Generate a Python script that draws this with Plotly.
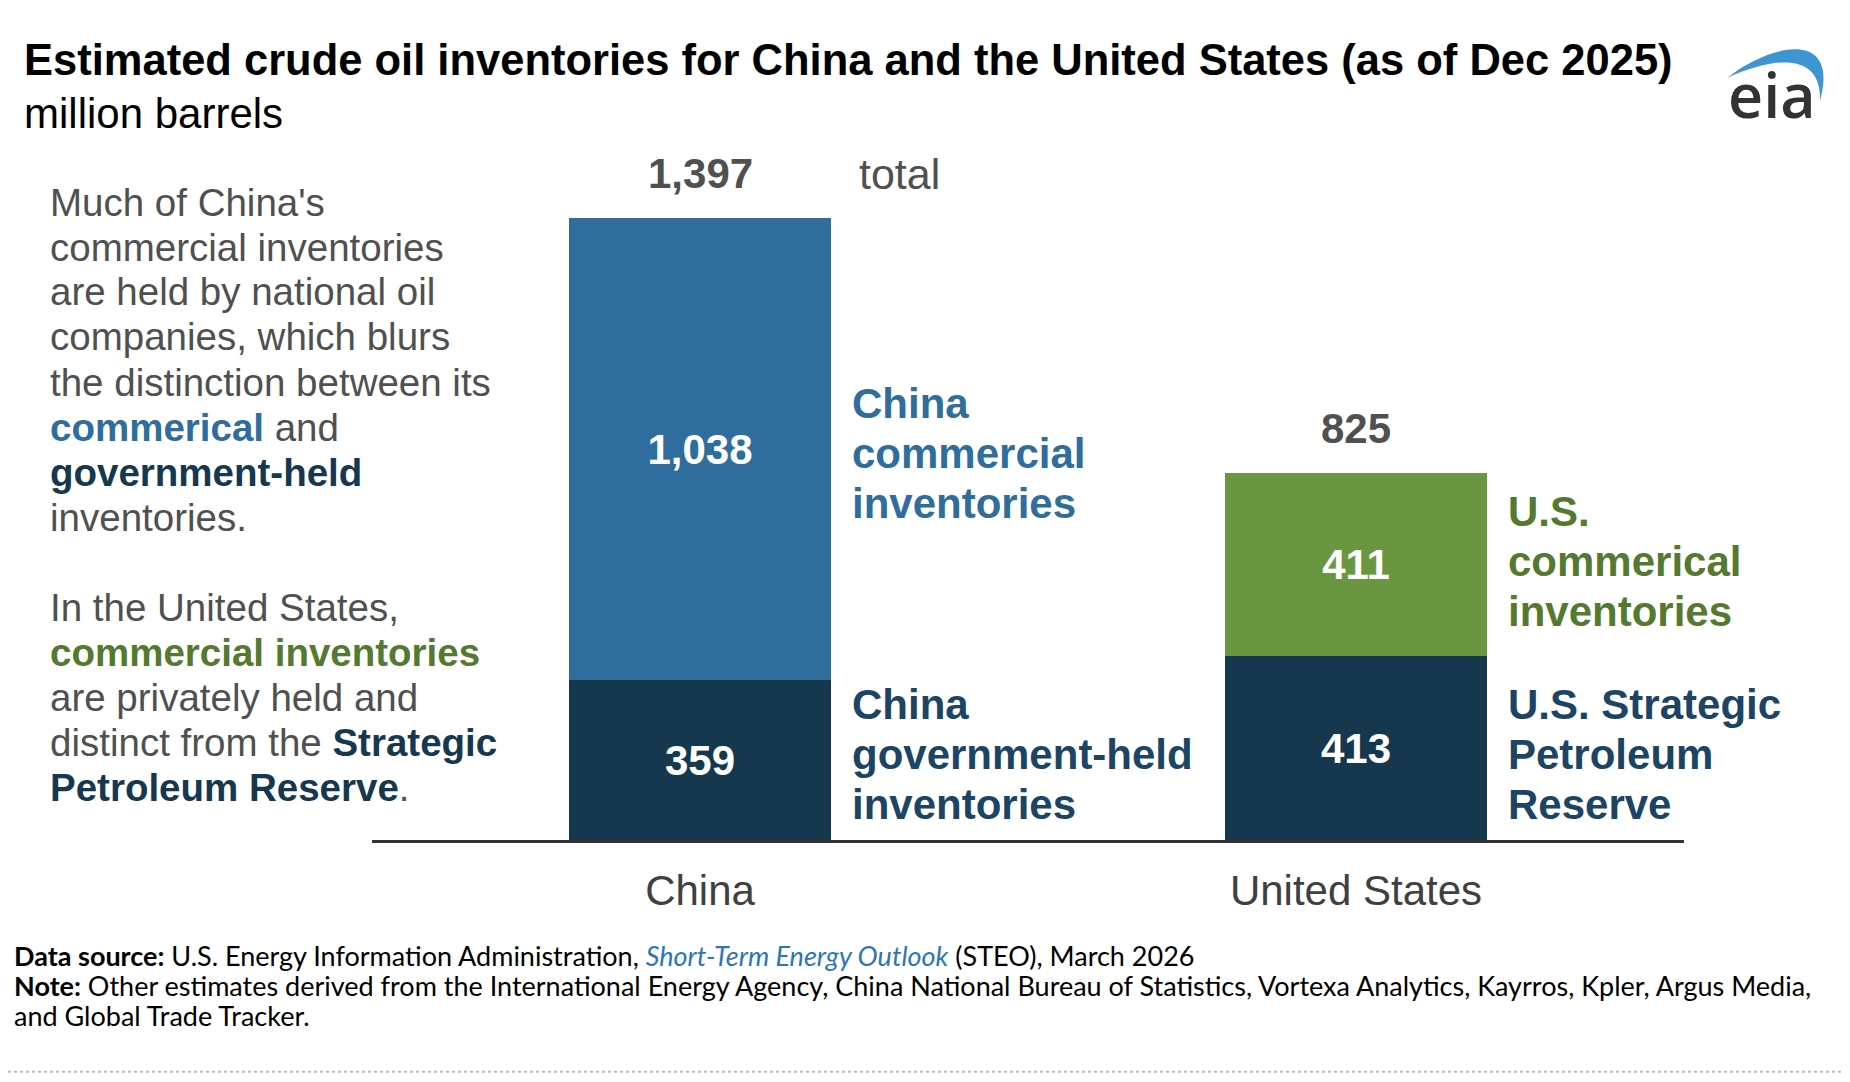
import plotly.graph_objects as go

# data (million barrels, as of Dec 2025)
countries = ["China", "United States"]
govt_held = [359, 413]        # China government-held / U.S. SPR
commercial = [1038, 411]      # commercial inventories
totals = [1397, 825]

# page body has an 8px margin, so the figure is a bit smaller than the window
OFF = 8
W, H = 1850 - 2 * OFF, 1082 - 2 * OFF

NAVY = "#16384F"
BLUE = "#2F6D9C"
GREEN = "#6A9641"
NAVY_TXT = "#1C4464"
GREEN_TXT = "#54792F"
GREY = "#505050"
FONT = "Liberation Sans"


def px_x(x):
    # screen px -> paper
    return (x - OFF) / W


def px_y(y):
    return 1 - (y - OFF) / H


fig = go.Figure()
fig.add_trace(go.Bar(
    x=countries, y=govt_held,
    marker=dict(color=NAVY, line=dict(width=0)),
    texttemplate="%{y:,}", textposition="inside", insidetextanchor="middle",
    textfont=dict(family=FONT, size=42, color="white", weight="bold"),
))
fig.add_trace(go.Bar(
    x=countries, y=commercial,
    marker=dict(color=[BLUE, GREEN], line=dict(width=0)),
    texttemplate="%{y:,}", textposition="inside", insidetextanchor="middle",
    textfont=dict(family=FONT, size=42, color="white", weight="bold"),
))

ann = []

# totals above bars
for c, t in zip(countries, totals):
    ann.append(dict(x=c, y=t, xref="x", yref="y", text=f"<b>{t:,}</b>",
                    showarrow=False, yanchor="middle", yshift=44,
                    font=dict(family=FONT, size=42, color=GREY)))
ann.append(dict(x=countries[0], y=totals[0], xref="x", yref="y", text="total",
                showarrow=False, xanchor="left", yanchor="middle",
                xshift=157, yshift=44,
                font=dict(family=FONT, size=43, color=GREY)))

# series labels to the right of the bars (one annotation per line)
seg_labels = [
    (countries[0], govt_held[0] + commercial[0] / 2, -5,
     ["China", "commercial", "inventories"], BLUE),
    (countries[0], govt_held[0] / 2, 5,
     ["China", "government-held", "inventories"], NAVY_TXT),
    (countries[1], govt_held[1] + commercial[1] / 2, 2,
     ["U.S.", "commerical", "inventories"], GREEN_TXT),
    (countries[1], govt_held[1] / 2, -7,
     ["U.S. Strategic", "Petroleum", "Reserve"], NAVY_TXT),
]
for c, yv, tweak, lines, col in seg_labels:
    for k, line in enumerate(lines):
        ann.append(dict(x=c, y=yv, xref="x", yref="y", text=f"<b>{line}</b>",
                        showarrow=False, xanchor="left", yanchor="middle",
                        xshift=150, yshift=50 * (1 - k) + tweak + 1,
                        font=dict(family=FONT, size=42, color=col)))

# left-hand commentary
b = lambda s, col: f"<span style='color:{col}'><b>{s}</b></span>"
left_lines = [
    "Much of China's",
    "commercial inventories",
    "are held by national oil",
    "companies, which blurs",
    "the distinction between its",
    b("commerical", BLUE) + " and",
    b("government-held", NAVY),
    "inventories.",
    "",
    "In the United States,",
    b("commercial inventories", GREEN_TXT),
    "are privately held and",
    "distinct from the " + b("Strategic", NAVY),
    b("Petroleum Reserve", NAVY) + ".",
]
for i, line in enumerate(left_lines):
    if not line:
        continue
    ann.append(dict(x=px_x(48), y=px_y(202 + 45 * i), xref="paper", yref="paper",
                    text=line, showarrow=False, xanchor="left", yanchor="middle",
                    font=dict(family=FONT, size=38.5, color=GREY)))

# title and subtitle
ann.append(dict(x=px_x(22), y=px_y(60), xref="paper", yref="paper",
                text="<b>Estimated crude oil inventories for China and the United States (as of Dec 2025)</b>",
                showarrow=False, xanchor="left", yanchor="middle",
                font=dict(family=FONT, size=43.5, color="black")))
ann.append(dict(x=px_x(22), y=px_y(113), xref="paper", yref="paper",
                text="million barrels", showarrow=False, xanchor="left", yanchor="middle",
                font=dict(family=FONT, size=42, color="black")))

# footer
FOOT = "Lato"
foot_lines = [
    "<b>Data source:</b> U.S. Energy Information Administration, "
    "<i><span style='color:#2E75B6'>Short-Term Energy Outlook</span></i> (STEO), March 2026",
    "<b>Note:</b> Other estimates derived from the International Energy Agency, China National "
    "Bureau of Statistics, Vortexa Analytics, Kayrros, Kpler, Argus Media,",
    "and Global Trade Tracker.",
]
for i, line in enumerate(foot_lines):
    ann.append(dict(x=px_x(12), y=px_y(955 + 30 * i), xref="paper", yref="paper",
                    text=line, showarrow=False, xanchor="left", yanchor="middle",
                    font=dict(family=FOOT, size=27, color="black")))

# eia logo
ann.append(dict(x=px_x(1772), y=px_y(94), xref="paper", yref="paper",
                text="eia", showarrow=False, xanchor="center", yanchor="middle",
                font=dict(family="Open Sans", size=61, color="#333333", weight=600)))

arc = (f"M {px_x(1727)},{px_y(78)} "
       f"C {px_x(1770)},{px_y(44)} {px_x(1840)},{px_y(28)} {px_x(1820)},{px_y(101)} "
       f"C {px_x(1822)},{px_y(52)} {px_x(1775)},{px_y(56)} {px_x(1727)},{px_y(78)} Z")

shapes = [
    dict(type="path", path=arc, xref="paper", yref="paper",
         fillcolor="#3E95D1", line=dict(width=0)),
    dict(type="line", x0=0, x1=1, y0=0.002, y1=0.002, xref="paper", yref="paper",
         line=dict(color="#BBBBBB", width=2, dash="dot")),
]

fig.update_layout(
    width=W, height=H,
    barmode="stack", bargap=0.6, showlegend=False,
    plot_bgcolor="white", paper_bgcolor="white",
    font=dict(family=FONT),
    margin=dict(l=0, r=0, t=0, b=0),
    annotations=ann, shapes=shapes,
    xaxis=dict(domain=[px_x(372), px_x(1684)], range=[-0.5, 1.5], autorange=False,
               showline=True, linecolor="#333333", linewidth=3,
               showgrid=False, ticks="", ticklabelstandoff=12,
               tickfont=dict(family=FONT, size=42, color="#404040")),
    yaxis=dict(domain=[px_y(840), px_y(172)], range=[0, 1500], visible=False,
               showgrid=False, zeroline=False),
)

fig.write_html("out.html")
